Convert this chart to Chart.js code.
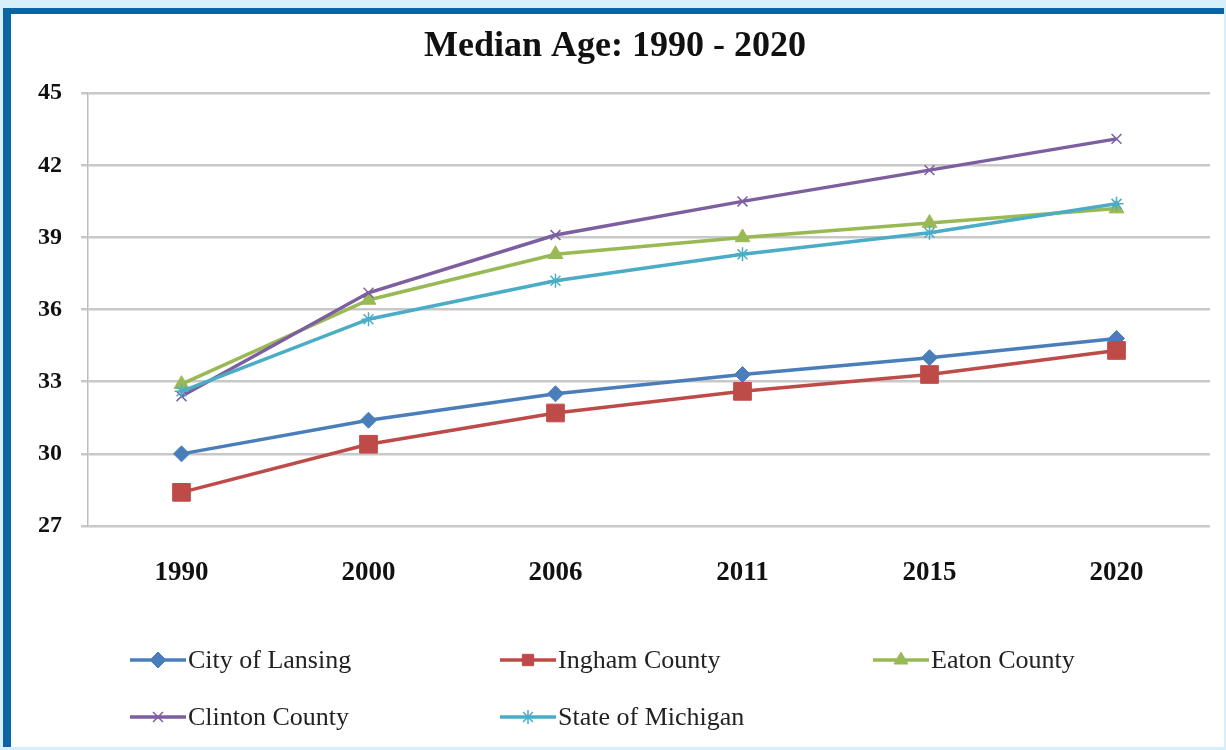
<!DOCTYPE html>
<html>
<head>
<meta charset="utf-8">
<script src="https://cdn.jsdelivr.net/npm/chart.js@4/dist/chart.umd.min.js"></script>
<style>
  html, body { margin: 0; padding: 0; }
  body { width: 1226px; height: 750px; background: #d6effb; overflow: hidden; position: relative; }
  #panel {
    position: absolute; left: 3px; top: 8px; width: 1221px; height: 739px;
    background: #fff; box-sizing: border-box;
    border-top: 6px solid #0b65a2; border-left: 8px solid #0b65a2;
  }
  #wrap { position: absolute; left: 0; top: 0; width: 1226px; height: 750px; }
</style>
</head>
<body>
<div id="panel"></div>
<div id="wrap"><canvas id="ageChart"></canvas></div>
<script>
// 차트 데이터
const years = ['1990', '2000', '2006', '2011', '2015', '2020'];
const seriesNames = ['City of Lansing', 'Ingham County', 'Eaton County', 'Clinton County', 'State of Michigan'];
const lansing  = [30.0, 31.4, 32.5, 33.3, 34.0, 34.8];
const ingham   = [28.4, 30.4, 31.7, 32.6, 33.3, 34.3];
const eaton    = [32.9, 36.4, 38.3, 39.0, 39.6, 40.2];
const clinton  = [32.4, 36.7, 39.1, 40.5, 41.8, 43.1];
const michigan = [32.6, 35.6, 37.2, 38.3, 39.2, 40.4];
const yTicks = [27, 30, 33, 36, 39, 42, 45];

const SERIF = "'Liberation Serif', 'Times New Roman', serif";

// 시리즈 스타일
const styles = [
    { color: '#4a7ebb', point: 'rectRot',  radius: 8,    bw: 1 },
    { color: '#be4b48', point: 'rect',     radius: 12.5, bw: 1 },
    { color: '#98b954', point: 'triangle', radius: 8.5,  bw: 1 },
    { color: '#7d5fa0', point: 'crossRot', radius: 7,    bw: 1.5 },
    { color: '#4bacc6', point: 'star',     radius: 7,    bw: 1.5 }
];
const values = [lansing, ingham, eaton, clinton, michigan];

const datasets = values.map((data, i) => ({
    label: seriesNames[i],
    data: data,
    borderColor: styles[i].color,
    backgroundColor: styles[i].color,
    borderWidth: 3.5,
    pointStyle: styles[i].point,
    pointRadius: styles[i].radius,
    pointBorderWidth: styles[i].bw,
    pointBackgroundColor: styles[i].color,
    pointBorderColor: styles[i].color,
    tension: 0,
    order: values.length - 1 - i   // 뒤 시리즈가 위에 그려지도록
}));

// 2줄 3열 범례 (캔버스에 직접 그림)
const gridLegend = {
    id: 'gridLegend',
    afterDraw(chart) {
        const ctx = chart.ctx;
        const cols = [130, 500, 873];
        const rows = [660, 717];
        chart.data.datasets.forEach((ds, i) => {
            const x0 = cols[i % 3];
            const y = rows[Math.floor(i / 3)];
            ctx.save();
            ctx.strokeStyle = ds.borderColor;
            ctx.lineWidth = 3.5;
            ctx.beginPath();
            ctx.moveTo(x0, y);
            ctx.lineTo(x0 + 56, y);
            ctx.stroke();
            ctx.fillStyle = ds.pointBackgroundColor;
            ctx.strokeStyle = ds.pointBorderColor;
            ctx.lineWidth = ds.pointBorderWidth;
            if (Chart.helpers && Chart.helpers.drawPoint) {
                Chart.helpers.drawPoint(ctx, {
                    pointStyle: ds.pointStyle,
                    radius: Math.min(ds.pointRadius, 8),
                    borderWidth: ds.pointBorderWidth,
                    rotation: 0
                }, x0 + 28, y);
            }
            ctx.fillStyle = '#222';
            ctx.font = '26px ' + SERIF;
            ctx.textAlign = 'left';
            ctx.textBaseline = 'middle';
            ctx.fillText(ds.label, x0 + 58, y + 1);
            ctx.restore();
        });
    }
};

new Chart(document.getElementById('ageChart'), {
    type: 'line',
    data: { labels: years, datasets: datasets },
    options: {
        responsive: true,
        maintainAspectRatio: false,
        animation: false,
        layout: { padding: { left: 20, right: 16, top: 0, bottom: 154 } },
        plugins: {
            legend: { display: false },
            tooltip: { enabled: false },
            title: {
                display: true,
                text: 'Median Age: 1990 - 2020',
                color: '#111',
                font: { family: SERIF, size: 36, weight: 'bold', lineHeight: 1.2 },
                padding: { top: 25, bottom: 25 }
            }
        },
        scales: {
            x: {
                offset: true,
                grid: { display: false, drawTicks: false },
                border: { display: false },
                ticks: {
                    color: '#111',
                    padding: 31,
                    font: { family: SERIF, size: 27, weight: 'bold' }
                },
                afterFit(scale) { scale.height = 70; }
            },
            y: {
                min: 27,
                max: 45,
                afterBuildTicks(scale) { scale.ticks = yTicks.map(v => ({ value: v })); },
                grid: { color: '#c8c8c8', lineWidth: 2.5, tickLength: 7 },
                border: { display: true, color: '#bdbdbd', width: 1.5 },
                ticks: {
                    color: '#111',
                    padding: 19,
                    font: { family: SERIF, size: 24, weight: 'bold' }
                },
                afterFit(scale) { scale.width = 68; }
            }
        }
    },
    plugins: [gridLegend]
});
</script>
</body>
</html>
